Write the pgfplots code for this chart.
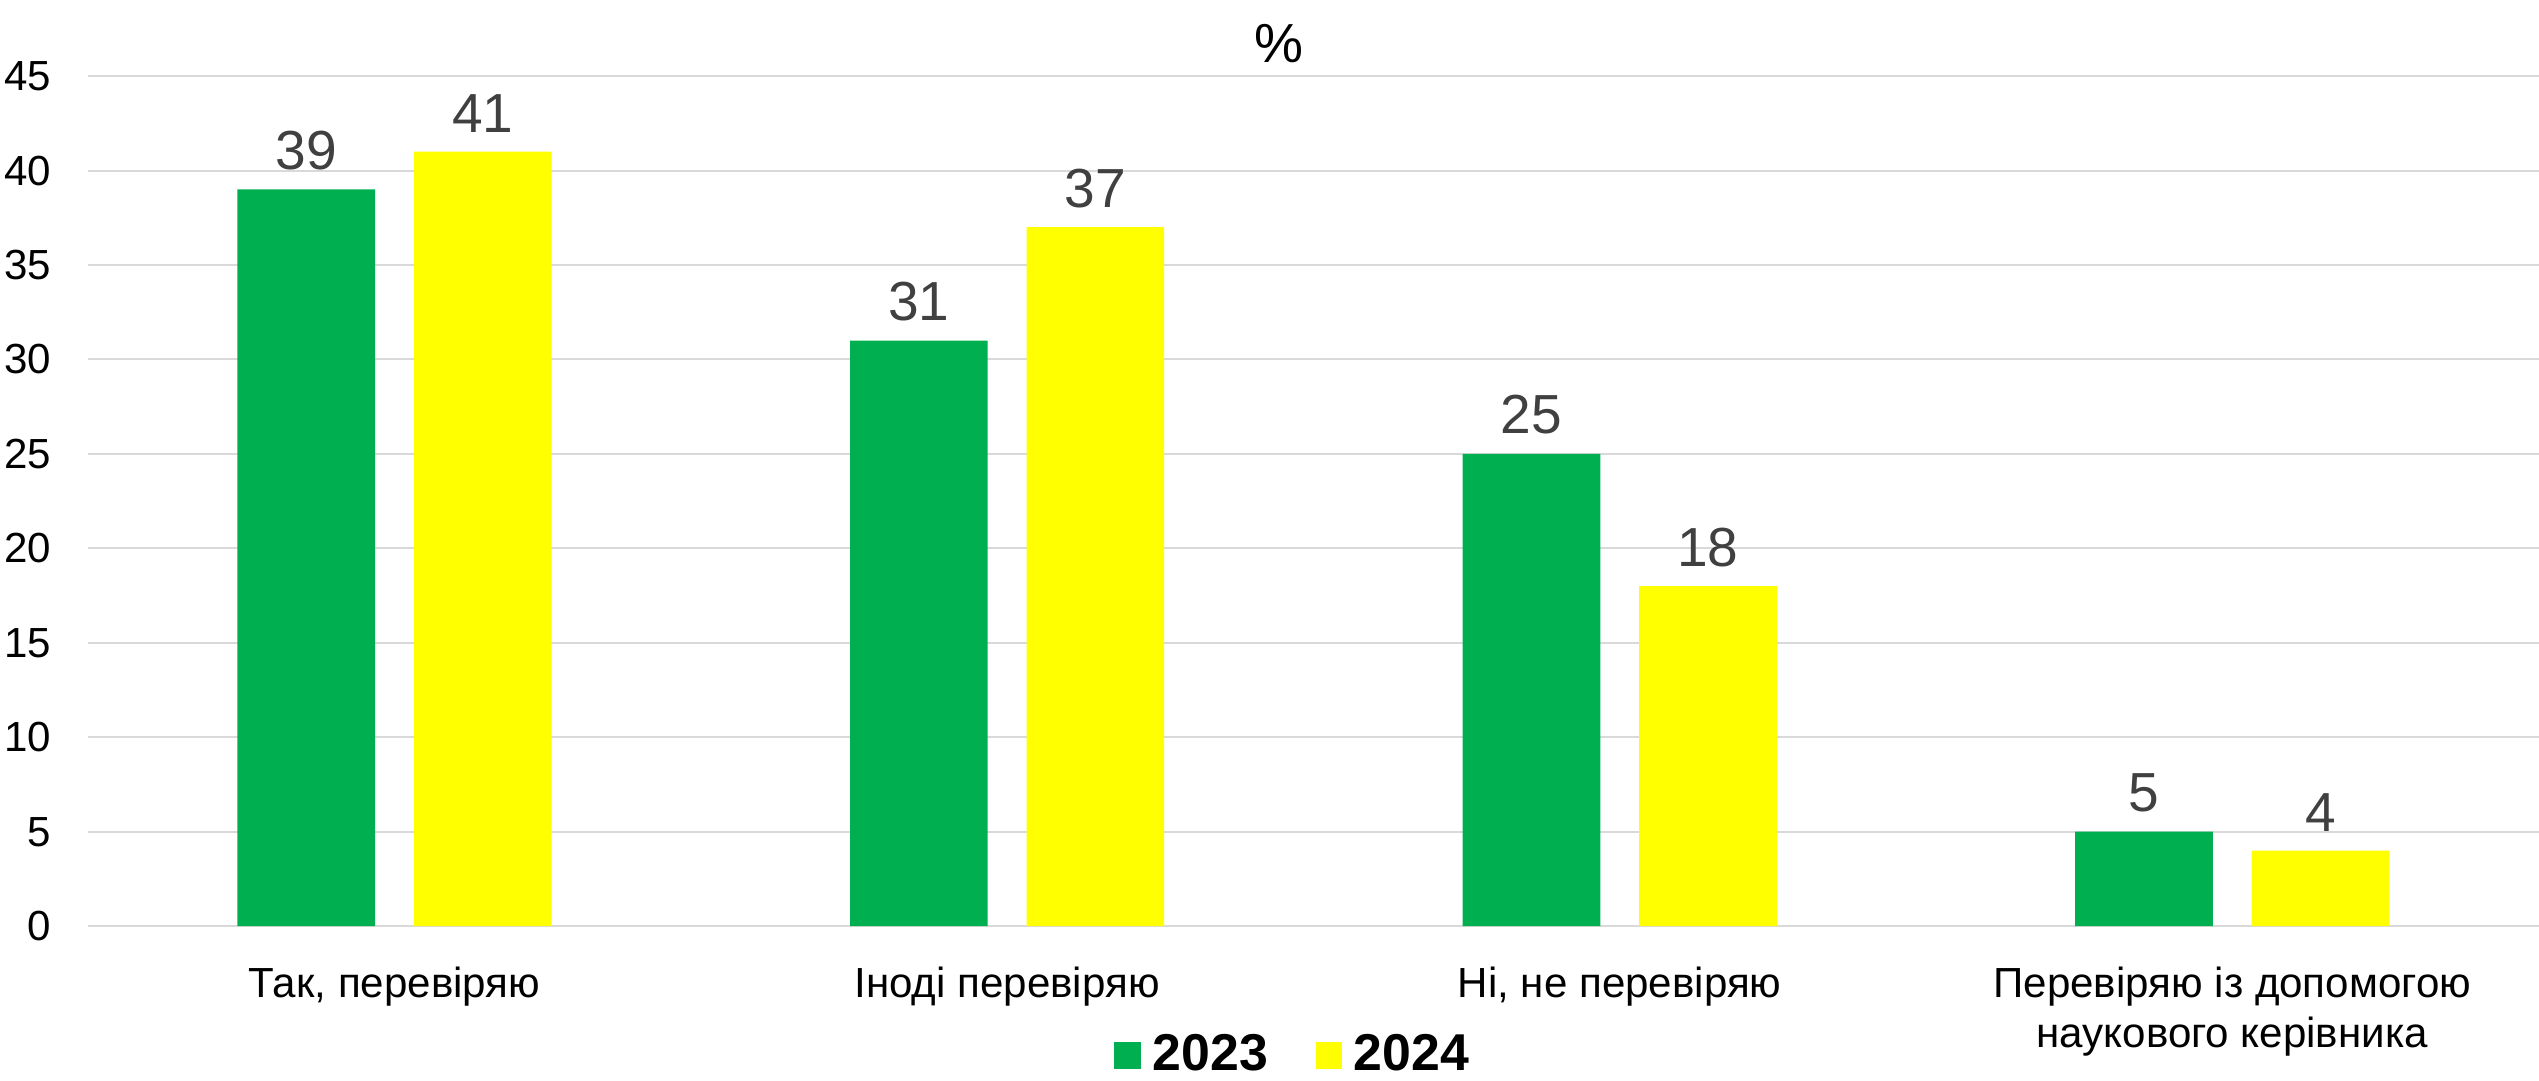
\documentclass[border=0pt]{standalone}
\usepackage{pgfplots}
\pgfplotsset{compat=1.18}
\usepackage{fontspec}
\setmainfont{Liberation Sans}
\definecolor{cgreen}{HTML}{00B050}
\definecolor{cyellow}{HTML}{FFFF00}
\definecolor{lblgray}{HTML}{404040}
\definecolor{gridgray}{HTML}{D9D9D9}
\begin{document}
\begin{tikzpicture}
\begin{axis}[
  at={(0pt,0pt)}, anchor=south west,
  width=756.6pt, height=262.5pt, scale only axis,
  ybar=12pt, bar width=42.5pt,
  xmin=-0.5, xmax=3.5, ymin=0, ymax=45,
  ytick={0,5,...,45},
  xtick={0,1,2,3},
  xticklabels={{Так, перевіряю},{Іноді перевіряю},{Ні, не перевіряю},{Перевіряю із допомогою\\наукового керівника}},
  xticklabel style={align=center, font=\fontsize{13}{15.4}\selectfont, text=black, yshift=-9pt},
  yticklabel style={font=\fontsize{13}{15}\selectfont, text=black, xshift=-8pt},
  /pgf/number format/assume math mode=true,
  major tick length=0pt,
  axis x line*=bottom, axis y line*=left,
  x axis line style={draw=gridgray, line width=0.6pt},
  y axis line style={draw=none},
  ymajorgrids, grid style={draw=gridgray, line width=0.6pt},
  nodes near coords,
  nodes near coords style={font=\fontsize{17}{20}\selectfont, text=lblgray, anchor=south, yshift=2.5pt},
  legend columns=2,
  legend style={at={(0.4925,-0.1516)}, anchor=center, draw=none, fill=none,
    font=\fontsize{16}{19}\selectfont\bfseries,
    /tikz/every odd column/.append style={column sep=1.5pt},
    /tikz/every even column/.append style={column sep=12.7pt}},
  legend image code/.code={\fill[#1] (0pt,-4.15pt) rectangle (8.3pt,4.15pt);},
  clip=false,
]
\addplot[fill=cgreen, draw=none] coordinates {(0,39) (1,31) (2,25) (3,5)};
\addplot[fill=cyellow, draw=none] coordinates {(0,41) (1,37) (2,18) (3,4)};
\legend{2023,2024}
\node[font=\fontsize{17}{20}\selectfont, text=black] at (axis description cs:0.486,1.038) {\%};
\end{axis}
\pgfresetboundingbox
\path[use as bounding box] (-27.25pt,-47.5pt) rectangle (756.75pt,286pt);
\end{tikzpicture}
\end{document}
